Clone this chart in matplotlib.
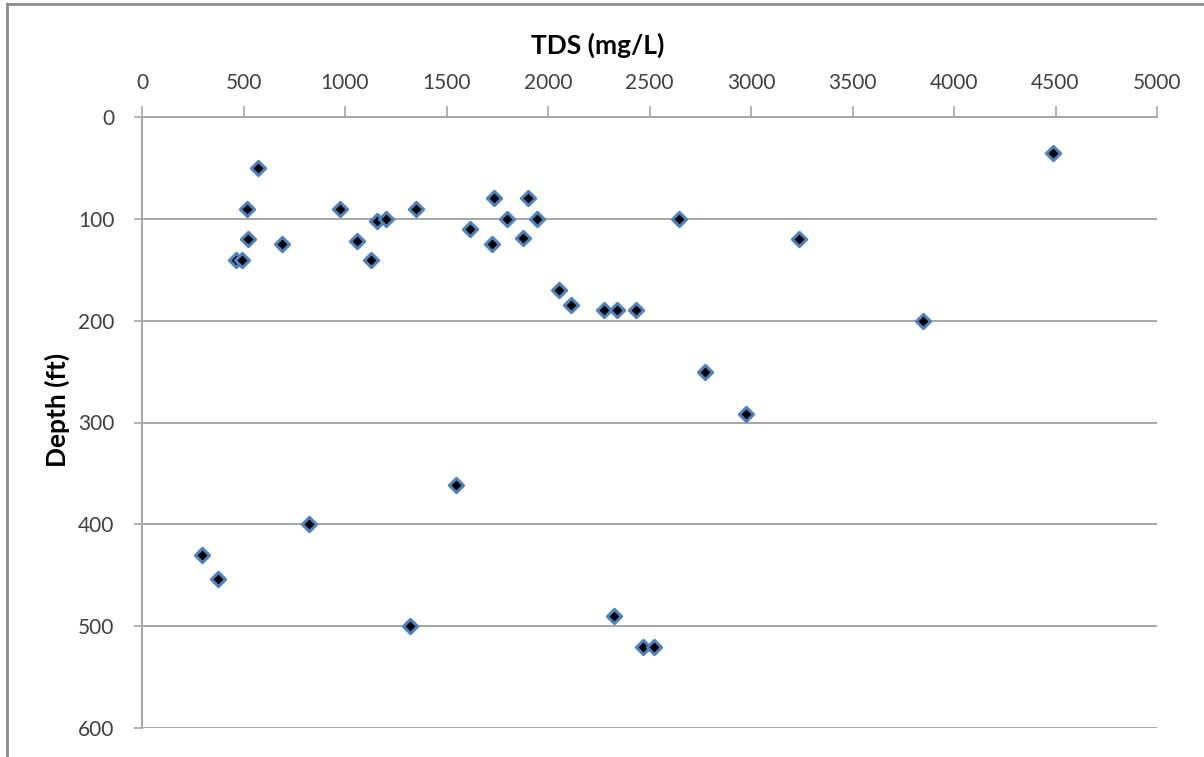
import matplotlib
matplotlib.use("Agg")
import matplotlib.pyplot as plt
from matplotlib.lines import Line2D

plt.rcParams['font.family'] = ['Lato', 'DejaVu Sans']

# Total dissolved solids (mg/L) and sample depth (ft) for each well
tds = [571, 517, 522, 461, 491, 690,
       975, 1058, 1127, 1156, 1202, 1350,
       1616, 1734, 1726, 1796, 1878, 1903, 1944,
       2056, 2112, 2276, 2338, 2433, 2645, 3236,
       2773, 2975, 3847, 4488,
       1545, 821, 295, 373, 1319, 2323, 2466, 2521]
depth = [50, 90, 120, 140, 140, 125,
         90, 122, 140, 102, 100, 90,
         110, 80, 125, 100, 119, 80, 100,
         170, 185, 190, 190, 190, 100, 120,
         250, 292, 200, 35,
         361, 400, 430, 454, 500, 490, 520, 520]

x_ticks = [0, 500, 1000, 1500, 2000, 2500, 3000, 3500, 4000, 4500, 5000]
y_ticks = [0, 100, 200, 300, 400, 500, 600]

W, H = 1204, 757
fig = plt.figure(figsize=(W / 100, H / 100), dpi=100)
fig.patch.set_facecolor('white')

left, right, top, bottom = 142, 1157, 117, 728
ax = fig.add_axes([left / W, 1 - bottom / H, (right - left) / W, (bottom - top) / H])

grid_col = '#A6A6A6'
text_col = '#404040'

ax.scatter(tds, depth, marker='D', s=52, facecolor='black',
           edgecolor='#4F81BD', linewidths=2.2, zorder=3, clip_on=False)

ax.set_xlim(0, 5000)
ax.set_ylim(600, 0)
ax.set_xticks(x_ticks)
ax.set_yticks(y_ticks)

ax.xaxis.set_ticks_position('top')
ax.xaxis.set_label_position('top')
for s in ['right', 'bottom']:
    ax.spines[s].set_visible(False)
for s in ['left', 'top']:
    ax.spines[s].set_color(grid_col)
    ax.spines[s].set_linewidth(1.4)

ax.yaxis.grid(True, color=grid_col, linewidth=1.4)
ax.set_axisbelow(True)

ax.tick_params(axis='x', direction='out', length=8, width=1.2, color=grid_col,
               labelsize=15, labelcolor=text_col, pad=9)
ax.tick_params(axis='y', direction='out', length=6, width=1.2, color=grid_col,
               labelsize=15, labelcolor=text_col, pad=14)

fig.text(598 / W, 1 - 45 / H, 'TDS (mg/L)', ha='center', va='center',
         fontsize=19, fontweight='bold', color='black')
fig.text(57 / W, 1 - 410 / H, 'Depth (ft)', ha='center', va='center',
         rotation=90, fontsize=19, fontweight='bold', color='black')

# Outer chart frame (left and top edges)
fig.add_artist(Line2D([7 / W, 7 / W], [0, 1 - 4 / H], transform=fig.transFigure,
                      color='#8C8C8C', linewidth=2))
fig.add_artist(Line2D([7 / W, 1], [1 - 4 / H, 1 - 4 / H], transform=fig.transFigure,
                      color='#8C8C8C', linewidth=2))

fig.savefig('out.png', dpi=100, facecolor='white')
